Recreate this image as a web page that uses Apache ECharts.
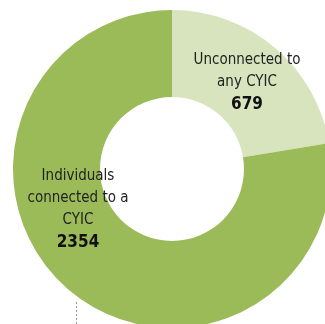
<!DOCTYPE html>
<html>
<head>
<meta charset="utf-8">
<script src="https://cdn.jsdelivr.net/npm/echarts@6/dist/echarts.min.js"></script>
<style>
  html, body { margin: 0; padding: 0; background: #fff; }
  #chart { width: 325px; height: 324px; }
</style>
</head>
<body>
<div id="chart"></div>
<script>
// slice names and counts
var names = ['Unconnected to\nany CYIC', 'Individuals\nconnected to a\nCYIC'];
var counts = [679, 2354];
var colors = ['#d7e4bd', '#9bbb59'];

var chart = echarts.init(document.getElementById('chart'));

var pieData = names.map(function (n, i) {
    return {name: n, value: counts[i], itemStyle: {color: colors[i]}};
});

var font = '"Liberation Sans Narrow", "DejaVu Sans Condensed", sans-serif';

var option = {
    animation: false,
    series: [{
        type: 'pie',
        center: [172, 169],
        radius: [72, 159],
        startAngle: 90,
        clockwise: true,
        silent: true,
        itemStyle: {borderWidth: 0},
        label: {
            show: true,
            position: 'inside',
            formatter: function (p) {
                return '{n|' + p.name.split('\n').join('}\n{n|') + '}\n{v|' + p.value + '}';
            },
            rich: {
                n: {fontFamily: font, fontSize: 15, lineHeight: 22, color: '#222'},
                v: {fontFamily: font, fontSize: 17, fontWeight: 'bold', lineHeight: 24, color: '#111'}
            }
        },
        labelLine: {show: false},
        labelLayout: function (p) {
            // the big slice's label sits on the left side of the ring
            if (p.dataIndex === 1) {
                return {x: 78, y: 210};
            }
            return {x: 247, y: 83};
        },
        data: pieData
    }],
    graphic: [{
        type: 'line',
        shape: {x1: 76.5, y1: 302, x2: 76.5, y2: 324},
        style: {stroke: '#999', lineWidth: 1, lineDash: [2, 2]}
    }]
};

chart.setOption(option);
</script>
</body>
</html>
